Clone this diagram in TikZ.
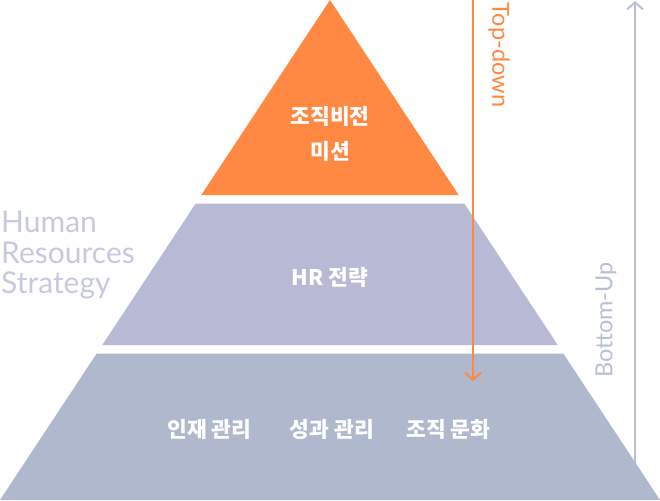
\documentclass[tikz,border=0pt]{standalone}
\usepackage{fontspec}
\usetikzlibrary{arrows.meta}
\newfontfamily\kr{Noto Sans CJK KR}
\newfontfamily\lat{Lato}
\definecolor{orng}{HTML}{FF8842}
\definecolor{midc}{HTML}{B8B9D5}
\definecolor{botc}{HTML}{AFB8CD}
\definecolor{hrtxt}{HTML}{C6C9DF}
\definecolor{upc}{HTML}{B9C0D3}
\tikzset{
  lbl/.style={font=\kr\bfseries\fontsize{21.5}{24}\selectfont, text=white, inner sep=0pt, align=center},
  side/.style={font=\lat\fontsize{23.5}{28}\selectfont, inner sep=0pt},
  hrs/.style={font=\lat\fontsize{30}{30}\selectfont, inner sep=0pt, text=hrtxt, anchor=base west},
  chev/.style={-{Straight Barb[length=7pt,width=16pt,line width=2pt]}, line width=2pt}
}
\begin{document}
\begin{tikzpicture}[x=1pt,y=-1pt]
\useasboundingbox (0,0) rectangle (660,500);
% arrows (behind pyramid)
\coordinate (td0) at (473,0);
\coordinate (td1) at (473,381);
\coordinate (bu0) at (635,465);
\coordinate (bu1) at (635,1);
\draw[chev, upc] (bu0) -- (bu1);
% pyramid
\fill[orng] (330,0) -- (458.7,195) -- (201.3,195) -- cycle;
\fill[midc] (195.7,203.5) -- (464.3,203.5) -- (557.7,345) -- (102.3,345) -- cycle;
\fill[botc] (96.7,353.5) -- (563.3,353.5) -- (660,500) -- (0,500) -- cycle;
\draw[chev, orng] (td0) -- (td1);
% labels
\node[lbl] (vision) at (330,116) {조직비전};
\node[lbl] (mission) at (330,151) {미션};
\node[lbl] (hr) at (330,277) {HR 전략};
\node[lbl] (insa) at (209.5,429) {인재 관리};
\node[lbl] (perf) at (332,429) {성과 관리};
\node[lbl] (cult) at (448.5,429) {조직 문화};
\node[hrs] (hrs1) at (1,232) {Human};
\node[hrs] (hrs2) at (1,263) {Resources};
\node[hrs] (hrs3) at (1,293) {Strategy};
\node[side, text=orng, rotate=-90] (tdl) at (499,55) {Top-down};
\node[side, text=upc, rotate=90] (bul) at (606,320) {Bottom-Up};
\end{tikzpicture}
\end{document}
